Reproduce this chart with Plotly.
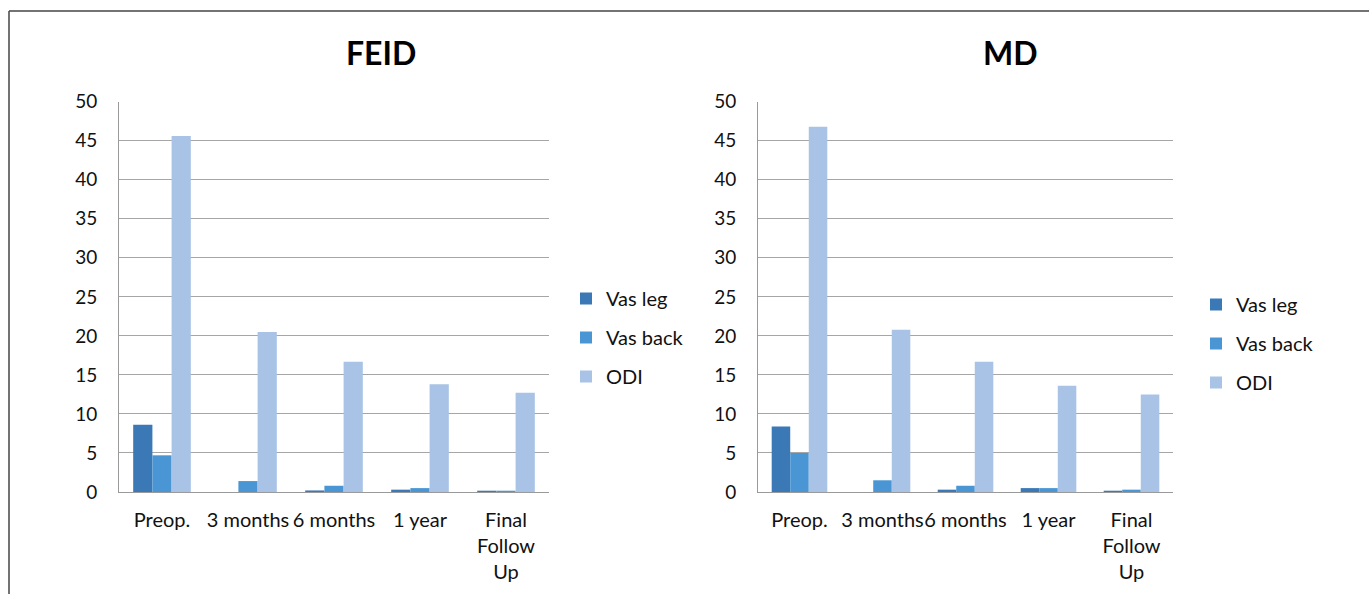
import plotly.graph_objects as go

# Follow-up time points (x categories)
categories = ["Preop.", "3 months", "6 months", "1 year", "Final<br>Follow<br>Up"]

# FEID group: mean scores per time point
feid_vas_leg = [8.6, 0.0, 0.2, 0.3, 0.1]
feid_vas_back = [4.7, 1.4, 0.8, 0.5, 0.1]
feid_odi = [45.6, 20.5, 16.7, 13.8, 12.7]

# MD group: mean scores per time point
md_vas_leg = [8.4, 0.0, 0.3, 0.5, 0.1]
md_vas_back = [5.0, 1.5, 0.8, 0.5, 0.3]
md_odi = [46.8, 20.8, 16.7, 13.6, 12.5]

series_names = ["Vas leg", "Vas back", "ODI"]
colors = ["#3b78b6", "#4a96d4", "#a9c3e6"]
y_ticks = [0, 5, 10, 15, 20, 25, 30, 35, 40, 45, 50]

FONT = "Lato"
TEXT = "#111111"
W, H = 1369, 594

fig = go.Figure()

panels = [
    ("x", "y", "legend", [feid_vas_leg, feid_vas_back, feid_odi]),
    ("x2", "y2", "legend2", [md_vas_leg, md_vas_back, md_odi]),
]
for xa, ya, lg, values in panels:
    for i, (name, vals, col) in enumerate(zip(series_names, values, colors)):
        fig.add_trace(go.Bar(
            x=categories, y=vals, name=name, marker_color=col,
            marker_line_width=0, xaxis=xa, yaxis=ya, legend=lg,
            legendgroup=f"{lg}-{i}",
        ))


def px_x(p):
    return p / W


def px_y(p):
    return (H - p) / H


x_common = dict(showline=True, linecolor="#9a9a9a", linewidth=1, ticks="",
                ticklabelstandoff=10, tickangle=0,
                tickfont=dict(family=FONT, size=20, color=TEXT))
y_common = dict(showline=True, linecolor="#9a9a9a", linewidth=1, ticks="",
                range=[0, 50], tickvals=y_ticks, showgrid=True,
                gridcolor="#a6a6a6", gridwidth=1, zeroline=False,
                ticklabelstandoff=17,
                tickfont=dict(family=FONT, size=19, color=TEXT))
legend_common = dict(xanchor="left", yanchor="top",
                     font=dict(family=FONT, size=20, color=TEXT),
                     tracegroupgap=10, bgcolor="rgba(0,0,0,0)")

fig.update_layout(
    width=W, height=H,
    margin=dict(l=0, r=0, t=0, b=0, autoexpand=False),
    paper_bgcolor="white", plot_bgcolor="white",
    barmode="group", bargap=0.33, bargroupgap=0,
    font=dict(family=FONT, color=TEXT),
    xaxis=dict(domain=[px_x(119), px_x(549)], anchor="y", **x_common),
    yaxis=dict(domain=[px_y(492), px_y(101.7)], anchor="x", **y_common),
    xaxis2=dict(domain=[px_x(758), px_x(1173)], anchor="y2", **x_common),
    yaxis2=dict(domain=[px_y(492), px_y(101.7)], anchor="x2", **y_common),
    legend=dict(x=px_x(566), y=px_y(279), **legend_common),
    legend2=dict(x=px_x(1196), y=px_y(285), **legend_common),
    showlegend=True,
)

# Panel titles
for text, cx in [("FEID", 381), ("MD", 1010)]:
    fig.add_annotation(text=f"<b>{text}</b>", x=px_x(cx), y=px_y(52),
                       xref="paper", yref="paper", showarrow=False,
                       xanchor="center", yanchor="middle",
                       font=dict(family=FONT, size=32, color="black"))

# Outer frame lines (top and left edges)
frame = dict(type="line", xref="paper", yref="paper",
             line=dict(color="#444444", width=1.5))
fig.add_shape(x0=px_x(9), x1=1, y0=px_y(11), y1=px_y(11), **frame)
fig.add_shape(x0=px_x(9), x1=px_x(9), y0=0, y1=px_y(11), **frame)

fig.write_html("out.html")
